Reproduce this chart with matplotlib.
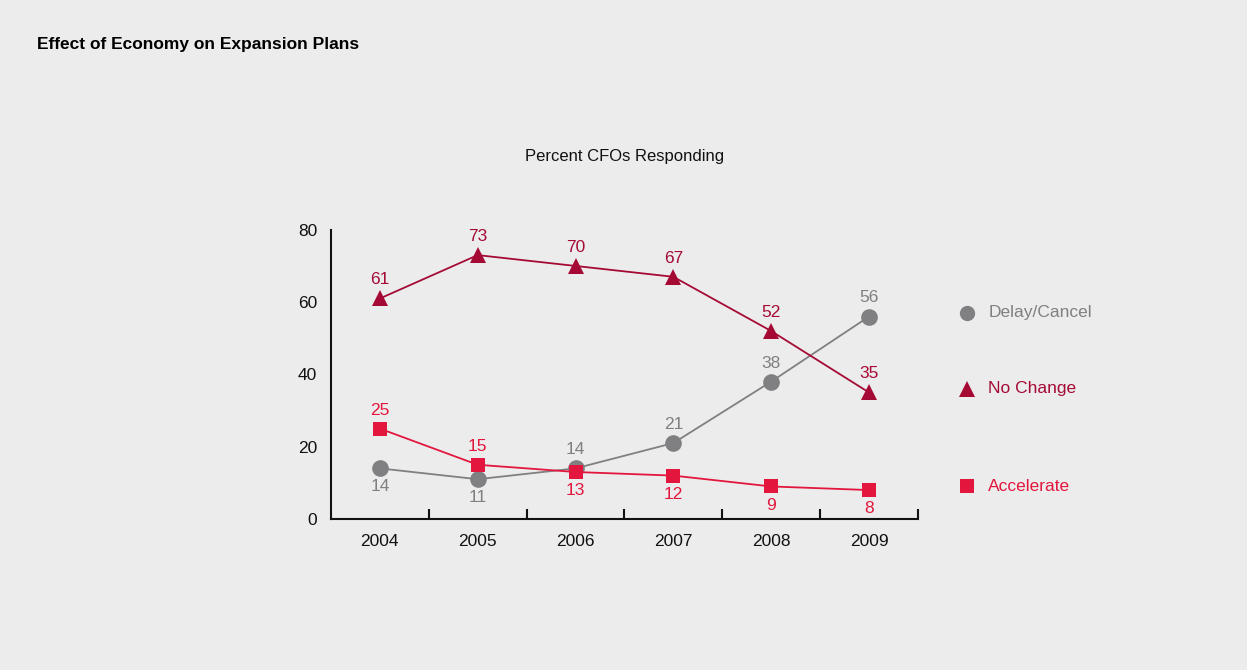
import matplotlib
matplotlib.use("Agg")
import matplotlib.pyplot as plt

plt.rcParams['font.family'] = ['Liberation Sans Narrow', 'Liberation Sans', 'DejaVu Sans']

years = ["2004", "2005", "2006", "2007", "2008", "2009"]
delay_cancel = [14, 11, 14, 21, 38, 56]
no_change = [61, 73, 70, 67, 52, 35]
accelerate = [25, 15, 13, 12, 9, 8]

# label placement per point: +1 above, -1 below
delay_pos = [-1, -1, 1, 1, 1, 1]
no_change_pos = [1, 1, 1, 1, 1, 1]
accel_pos = [1, 1, -1, -1, -1, -1]

GRAY = "#808083"
DARK_RED = "#a50a35"
RED = "#e3173e"
BG = "#ececec"

fig = plt.figure(figsize=(12.47, 6.70), dpi=100, facecolor=BG)
ax = fig.add_axes([0.2654, 0.2254, 0.4707, 0.4316], facecolor=BG)

x = list(range(len(years)))
series = [
    ("Delay/Cancel", delay_cancel, delay_pos, GRAY, "o", 12),
    ("No Change", no_change, no_change_pos, DARK_RED, "^", 12),
    ("Accelerate", accelerate, accel_pos, RED, "s", 10.5),
]

for name, vals, pos, col, mk, ms in series:
    ax.plot(x, vals, color=col, lw=1.3, marker=mk, markersize=ms,
            markeredgewidth=0, zorder=3)
    for xi, v, p in zip(x, vals, pos):
        ax.annotate(str(v), (xi, v), xytext=(0, 8 * p), textcoords="offset points",
                    ha="center", va="bottom" if p > 0 else "top",
                    color=col, fontsize=12.5)
    # key entry beside the final point
    ax.plot([6.0], [vals[-1] + 1], marker=mk, markersize=ms - 1, color=col,
            markeredgewidth=0, clip_on=False, linestyle="none")
    ax.text(6.22, vals[-1] + 1, name, color=col, fontsize=12.5, va="center", ha="left")

ax.set_xlim(-0.5, 5.5)
ax.set_ylim(0, 80)
ax.set_yticks([0, 20, 40, 60, 80])
ax.tick_params(axis="y", length=0, labelsize=12.5, pad=10, colors="#111111")
ax.set_xticks(x)
ax.set_xticklabels(years)
ax.set_xticks([i + 0.5 for i in range(6)], minor=True)
ax.tick_params(axis="x", which="major", length=0, labelsize=12.5, pad=11, colors="#111111")
ax.tick_params(axis="x", which="minor", length=7, direction="in", width=1.5, color="#111111")

for side in ("top", "right"):
    ax.spines[side].set_visible(False)
for side in ("left", "bottom"):
    ax.spines[side].set_linewidth(1.5)
    ax.spines[side].set_color("#111111")

fig.text(37 / 1247, 1 - 45 / 670, "Effect of Economy on Expansion Plans",
         fontsize=12.5, fontweight="bold", va="center", ha="left", color="#000000")
fig.text(625 / 1247, 1 - 156 / 670, "Percent CFOs Responding",
         fontsize=12, va="center", ha="center", color="#111111")

fig.savefig("out.png", dpi=100, facecolor=BG)
